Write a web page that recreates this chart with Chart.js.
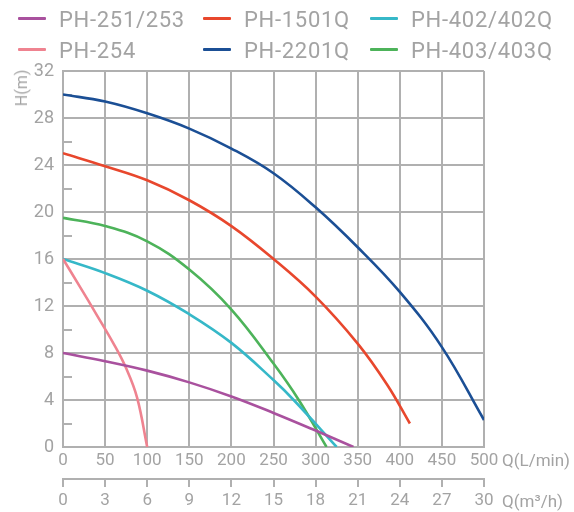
<!DOCTYPE html>
<html>
<head>
<meta charset="utf-8">
<script src="https://cdn.jsdelivr.net/npm/chart.js@4.4.1/dist/chart.umd.min.js"></script>
<style>
    body { margin: 0; background: #fff; }
    .wrap { position: relative; width: 574px; height: 512px; font-family: Roboto, 'Noto Sans', sans-serif; }
    .wrap canvas { position: absolute; left: 0; top: 0; }
    .legend_item { position: absolute; height: 26px; display: flex; align-items: center; }
    .legend_item .swatch { display: inline-block; width: 28px; height: 3px; border-radius: 1px; }
    .legend_item .label { margin-left: 13px; font-size: 22px; color: #a3a3a3; letter-spacing: 0.7px; line-height: 26px; position: relative; top: 2px; }
    .axis_title { position: absolute; color: #a3a3a3; font-size: 17px; white-space: nowrap; line-height: 20px; }
    .axis_title.y { left: 22px; top: 88px; transform: translate(-50%, -50%) rotate(-90deg); font-size: 16px; }
</style>
</head>
<body>
<div class="wrap" id="wrap">
    <canvas id="pumpChart" width="574" height="512"></canvas>
    <div class="axis_title y">H(m)</div>
    <div class="axis_title" style="left:502px; top:450px;">Q(L/min)</div>
    <div class="axis_title" style="left:502px; top:491px;">Q(m³/h)</div>
</div>
<script>
// Datos de las curvas (Q en L/min, H en m)
const q251 = [0, 50, 100, 150, 200, 250, 300, 345];
const h251 = [8, 7.3, 6.5, 5.5, 4.3, 2.9, 1.4, 0];

const q254 = [0, 20, 40, 60, 75, 88, 100];
const h254 = [16, 13.65, 11.25, 8.8, 6.7, 4.2, 0];

const q1501 = [0, 50, 100, 150, 200, 250, 300, 350, 385, 412];
const h1501 = [25, 23.9, 22.7, 21.0, 18.8, 16.0, 12.8, 8.8, 5.3, 2.0];

const q2201 = [0, 50, 100, 150, 200, 250, 300, 350, 400, 450, 500];
const h2201 = [30, 29.4, 28.4, 27.1, 25.4, 23.3, 20.4, 17.0, 13.2, 8.5, 2.3];

const q402 = [0, 50, 100, 150, 200, 250, 274, 325];
const h402 = [16, 14.8, 13.3, 11.3, 8.86, 5.7, 4, 0];

const q403 = [0, 50, 100, 150, 200, 250, 280, 313];
const h403 = [19.5, 18.8, 17.5, 15.1, 11.7, 7.1, 4, 0];

const seriesNames = ['PH-251/253', 'PH-254', 'PH-1501Q', 'PH-2201Q', 'PH-402/402Q', 'PH-403/403Q'];
const seriesQ = [q251, q254, q1501, q2201, q402, q403];
const seriesH = [h251, h254, h1501, h2201, h402, h403];
const seriesColors = ['#a9519e', '#ef8390', '#e8472d', '#1b4f95', '#36b8c8', '#4db35a'];

// Ejes
const flowTicksLpm = [0, 500, 50];      // min, max, paso
const flowTicksM3h = [0, 30, 3];
const headTicks = [0, 32, 4];
const minorHeadTicks = [2, 6, 10, 14, 18, 22, 26, 30];

const gridColor = '#b0b0b0';
const textColor = '#a3a3a3';

// Leyenda en HTML (3 columnas, 2 filas)
const legendCols = [18, 203, 370];
const legendRows = [5, 36];
const wrap = document.getElementById('wrap');
seriesNames.forEach((name, i) => {
    const item = document.createElement('div');
    item.className = 'legend_item';
    item.style.left = legendCols[Math.floor(i / 2)] + 'px';
    item.style.top = legendRows[i % 2] + 'px';
    item.innerHTML = '<span class="swatch" style="background:' + seriesColors[i] + '"></span><span class="label">' + name + '</span>';
    wrap.appendChild(item);
});

// Marcas menores del eje H
const minorTicksPlugin = {
    id: 'minorTicks',
    beforeDatasetsDraw(chart) {
        const ctx = chart.ctx;
        const yScale = chart.scales.y;
        const left = chart.chartArea.left;
        ctx.save();
        ctx.strokeStyle = gridColor;
        ctx.lineWidth = 2;
        minorHeadTicks.forEach(v => {
            const y = Math.round(yScale.getPixelForValue(v));
            ctx.beginPath();
            ctx.moveTo(left, y);
            ctx.lineTo(left + 9, y);
            ctx.stroke();
        });
        ctx.restore();
    }
};

const datasets = seriesNames.map((name, i) => ({
    label: name,
    data: seriesQ[i].map((q, j) => ({ x: q, y: seriesH[i][j] })),
    borderColor: seriesColors[i],
    backgroundColor: seriesColors[i],
    borderWidth: 2.6,
    pointRadius: 0,
    tension: 0.4,
    fill: false
}));

const tickFont = { family: 'Roboto', size: 17 };

new Chart(document.getElementById('pumpChart').getContext('2d'), {
    type: 'line',
    data: { datasets: datasets },
    options: {
        responsive: false,
        animation: false,
        devicePixelRatio: 1,
        layout: { padding: { top: 71, right: 90, left: 0, bottom: 0 } },
        plugins: { legend: { display: false }, tooltip: { enabled: false } },
        scales: {
            x: {
                type: 'linear',
                position: 'bottom',
                min: flowTicksLpm[0],
                max: flowTicksLpm[1],
                ticks: { stepSize: flowTicksLpm[2], color: textColor, font: tickFont, padding: 4, maxRotation: 0 },
                grid: { color: gridColor, lineWidth: 2, drawTicks: false },
                border: { color: gridColor, width: 2 },
                afterFit(axis) { axis.height = 32; }
            },
            x2: {
                type: 'linear',
                position: 'bottom',
                min: flowTicksM3h[0],
                max: flowTicksM3h[1],
                ticks: { stepSize: flowTicksM3h[2], color: textColor, font: tickFont, padding: 4, maxRotation: 0 },
                grid: { color: gridColor, lineWidth: 2, drawOnChartArea: false, drawTicks: true, tickLength: 8 },
                border: { color: gridColor, width: 2 },
                afterFit(axis) { axis.height = 33; }
            },
            y: {
                type: 'linear',
                min: headTicks[0],
                max: headTicks[1],
                ticks: { stepSize: headTicks[2], color: textColor, font: { family: 'Roboto', size: 18 }, padding: 9 },
                grid: { color: gridColor, lineWidth: 2, drawTicks: false },
                border: { color: gridColor, width: 2 },
                afterFit(axis) { axis.width = 63; }
            }
        }
    },
    plugins: [minorTicksPlugin]
});
</script>
</body>
</html>
